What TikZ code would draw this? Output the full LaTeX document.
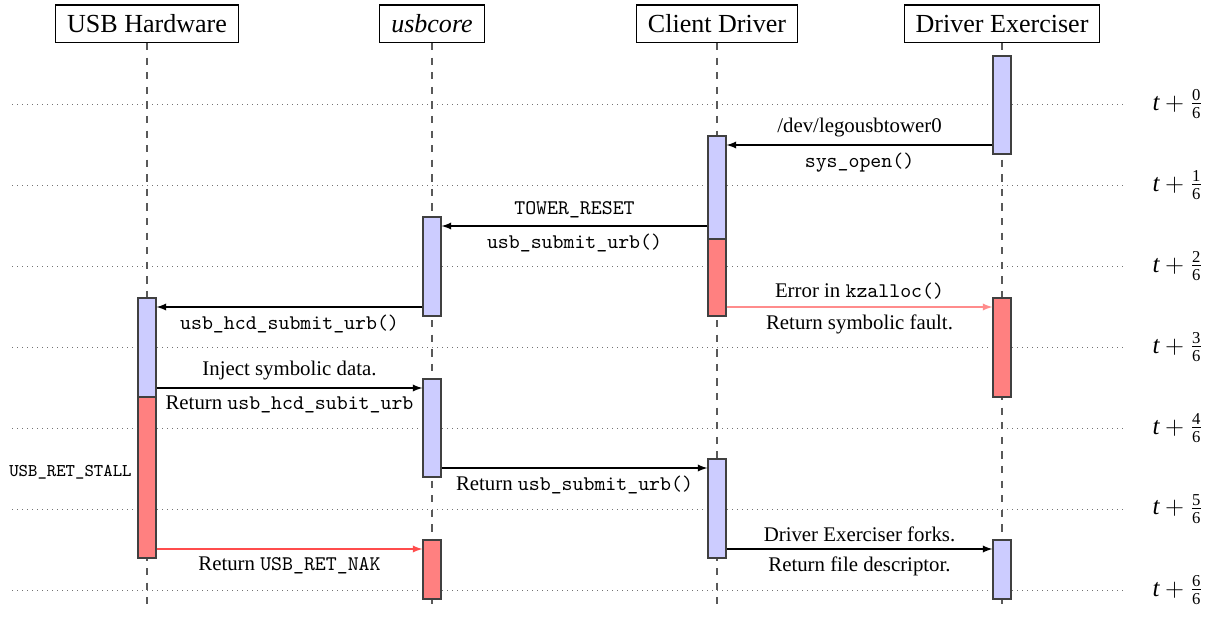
\documentclass[tikz,border=0pt]{standalone}
\usepackage{amsmath}
\usepackage{fontspec}
\setmainfont{Liberation Serif}
\usetikzlibrary{fit,arrows}
\begin{document}
\begin{tikzpicture}[x=0.48pt,y=-0.48pt,
  head/.style={draw, line width=0.6pt, font=\fontsize{12.5}{15}\selectfont, inner xsep=5.5pt, minimum height=18pt, anchor=south},
  life/.style={draw=black!65, line width=0.9pt, dash pattern=on 3.5pt off 3.5pt},
  tick/.style={draw=black!55, line width=0.4pt, dotted},
  bar/.style={draw=black!75, line width=0.6pt, inner sep=0pt},
  callbar/.style={bar, fill=blue!20},
  errbar/.style={bar, fill=red!50},
  msg/.style={-latex, line width=0.6pt},
  errmsg/.style={msg, draw=red!55, fill=red!55},
  tlabel/.style={anchor=west, font=\large, inner sep=2pt}]
\useasboundingbox (0,0) rectangle (1213,618);

% time lines
\foreach \k/\y in {0/104,1/185,2/266,3/347,4/428,5/509,6/590} {
  \coordinate (tl\k) at (12,\y);
  \coordinate (tr\k) at (1127,\y);
  \draw[tick] (tl\k) -- (tr\k);
  \node[tlabel] (tt\k) at (1148,\y) {$\textit{t}+\frac{\textrm{\k}}{\textrm{6}}$};
}

% heads
\node[head] (uh) at (147,43) {USB Hardware};
\node[head] (uc) at (432,43) {\textit{usbcore}};
\node[head] (cd) at (717,43) {Client Driver};
\node[head] (de) at (1002,43) {Driver Exerciser};

% lifelines
\coordinate (uhe) at (147,610);
\coordinate (uce) at (432,610);
\coordinate (cde) at (717,610);
\coordinate (dee) at (1002,610);
\draw[life] (uh.south) -- (uhe);
\draw[life] (uc.south) -- (uce);
\draw[life] (cd.south) -- (cde);
\draw[life] (de.south) -- (dee);

% activation bars
\node[callbar, fit={(138,298)(156,397)}] (uh1) {};
\node[errbar,  fit={(138,397)(156,558)}] (uh2) {};
\node[callbar, fit={(423,217)(441,316)}] (uc1) {};
\node[callbar, fit={(423,379)(441,477)}] (uc2) {};
\node[errbar,  fit={(423,540)(441,599)}] (uc3) {};
\node[callbar, fit={(708,136)(726,239)}] (cd1) {};
\node[errbar,  fit={(708,239)(726,316)}] (cd2) {};
\node[callbar, fit={(708,459)(726,558)}] (cd3) {};
\node[callbar, fit={(993,56)(1011,154)}] (de1) {};
\node[errbar,  fit={(993,298)(1011,397)}] (de2) {};
\node[callbar, fit={(993,540)(1011,599)}] (de3) {};

% messages
\draw[msg] (de1.west |- 0,145) -- node[above] {/dev/legousbtower0} node[below] {\texttt{sys\_open()}} (cd1.east |- 0,145);
\draw[msg] (cd1.west |- 0,226) -- node[above] {\texttt{TOWER\_RESET}} node[below] {\texttt{usb\_submit\_urb()}} (uc1.east |- 0,226);
\draw[msg] (uc1.west |- 0,307) -- node[below] {\texttt{usb\_hcd\_submit\_urb()}} (uh1.east |- 0,307);
\draw[errmsg, draw=red!45, fill=red!45] (cd2.east |- 0,307) -- node[above, text=black] {Error in \texttt{kzalloc()}} node[below, text=black] {Return symbolic fault.} (de2.west |- 0,307);
\draw[msg] (uh1.east |- 0,388) -- node[above] {Inject symbolic data.} node[below] {Return \texttt{usb\_hcd\_subit\_urb}} (uc2.west |- 0,388);
\draw[msg] (uc2.east |- 0,468) -- node[below] {Return \texttt{usb\_submit\_urb()}} (cd3.west |- 0,468);
\draw[errmsg, draw=red!70, fill=red!70] (uh2.east |- 0,549) -- node[below, text=black] {Return \texttt{USB\_RET\_NAK}} (uc3.west |- 0,549);
\draw[msg] (cd3.east |- 0,549) -- node[above] {Driver Exerciser forks.} node[below] {Return file descriptor.} (de3.west |- 0,549);

\node[anchor=east, inner sep=0pt, font=\ttfamily\fontsize{8.6}{10}\selectfont] (stall) at (132,472) {USB\_RET\_STALL};
\end{tikzpicture}
\end{document}
